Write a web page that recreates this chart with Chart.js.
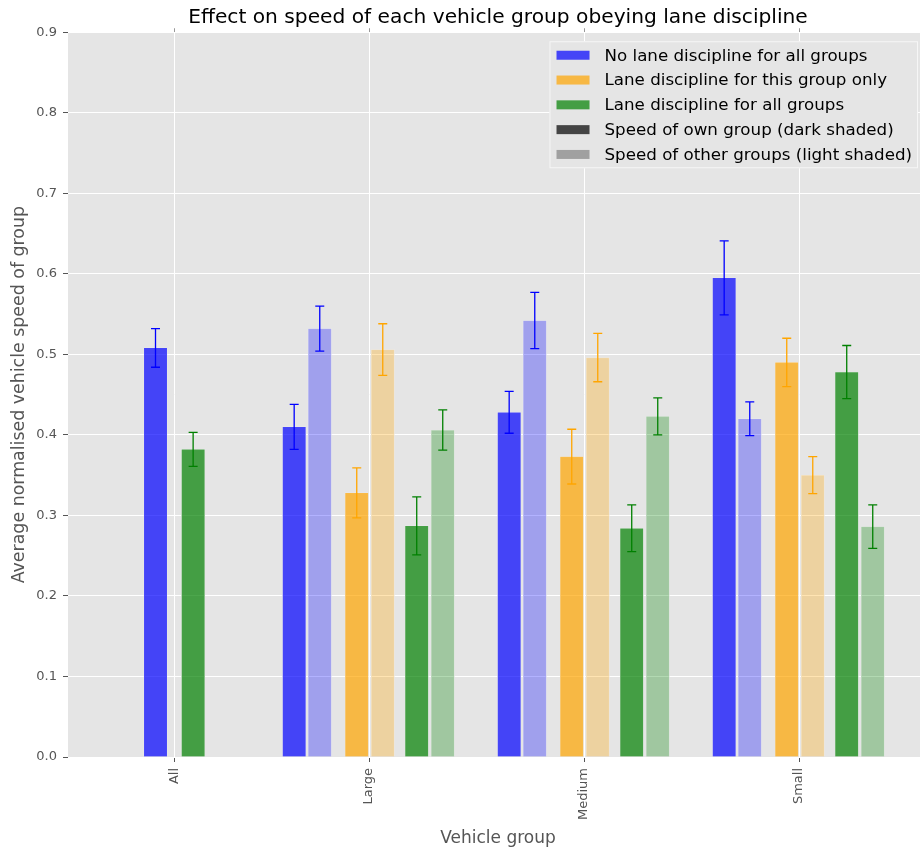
<!DOCTYPE html>
<html>
<head>
<meta charset="utf-8">
<script src="https://cdn.jsdelivr.net/npm/chart.js@4.4.0/dist/chart.umd.min.js"></script>
<style>
  html, body { margin: 0; padding: 0; background: #fff; overflow: hidden; }
  canvas { display: block; }
</style>
</head>
<body>
<canvas id="grafica" width="928" height="849"></canvas>
<script>
// grupos de vehiculos (eje x)
const categorias = ['All', 'Large', 'Medium', 'Small'];

// velocidad media normalizada: "Propio" = barra oscura, "Otros" = barra clara
const sinDisciplinaPropio = [0.508, 0.410, 0.428, 0.595];
const sinDisciplinaOtros  = [null, 0.532, 0.542, 0.420];
const esteGrupoPropio     = [null, 0.328, 0.373, 0.490];
const esteGrupoOtros      = [null, 0.506, 0.496, 0.350];
const todosPropio         = [0.382, 0.287, 0.284, 0.478];
const todosOtros          = [null, 0.406, 0.423, 0.286];

// barras de error (+/-)
const sinDisciplinaPropioErr = [0.024, 0.028, 0.026, 0.046];
const sinDisciplinaOtrosErr  = [null, 0.028, 0.035, 0.021];
const esteGrupoPropioErr     = [null, 0.031, 0.034, 0.030];
const esteGrupoOtrosErr      = [null, 0.032, 0.030, 0.023];
const todosPropioErr         = [0.021, 0.036, 0.029, 0.033];
const todosOtrosErr          = [null, 0.025, 0.023, 0.027];

const titulo = 'Effect on speed of each vehicle group obeying lane discipline';
const tituloX = 'Vehicle group';
const tituloY = 'Average normalised vehicle speed of group';
const etiquetasLeyenda = [
    'No lane discipline for all groups',
    'Lane discipline for this group only',
    'Lane discipline for all groups',
    'Speed of own group (dark shaded)',
    'Speed of other groups (light shaded)'
];

const fuente = 'DejaVu Sans';

// posicion de cada grupo en el eje x y desplazamiento de cada barra
const posGrupos = [0.094, 1, 2, 3];
const series = [
    { valores: sinDisciplinaPropio, errores: sinDisciplinaPropioErr, rgb: '0,0,255',   alfa: 0.7, err: 'blue',   desp: -0.348, despAll: -0.087 },
    { valores: sinDisciplinaOtros,  errores: sinDisciplinaOtrosErr,  rgb: '0,0,255',   alfa: 0.3, err: 'blue',   desp: -0.229 },
    { valores: esteGrupoPropio,     errores: esteGrupoPropioErr,     rgb: '255,165,0', alfa: 0.7, err: 'orange', desp: -0.057 },
    { valores: esteGrupoOtros,      errores: esteGrupoOtrosErr,      rgb: '255,165,0', alfa: 0.3, err: 'orange', desp: 0.064 },
    { valores: todosPropio,         errores: todosPropioErr,         rgb: '0,128,0',   alfa: 0.7, err: 'green',  desp: 0.222, despAll: 0.088 },
    { valores: todosOtros,          errores: todosOtrosErr,          rgb: '0,128,0',   alfa: 0.3, err: 'green',  desp: 0.343 }
];

const datasets = series.map(s => {
    const puntos = [];
    s.valores.forEach((v, i) => {
        if (v === null) return;
        const d = i === 0 ? s.despAll : s.desp;
        puntos.push({ x: posGrupos[i] + d, y: v, err: s.errores[i] });
    });
    return {
        data: puntos,
        backgroundColor: 'rgba(' + s.rgb + ',' + s.alfa + ')',
        borderColor: '#eeeeee',
        borderWidth: 0.5,
        barThickness: 23.3,
        grouped: false,
        colorError: s.err
    };
});

const coloresLeyenda = [
    'rgba(0,0,255,0.7)', 'rgba(255,165,0,0.7)', 'rgba(0,128,0,0.7)',
    'rgba(0,0,0,0.7)', 'rgba(0,0,0,0.3)'
];

// fondo gris del area de la grafica
const fondo = {
    id: 'fondo',
    beforeDraw(chart) {
        const { ctx, chartArea: a } = chart;
        ctx.save();
        ctx.fillStyle = '#ffffff';
        ctx.fillRect(0, 0, chart.width, chart.height);
        ctx.fillStyle = '#e5e5e5';
        ctx.fillRect(a.left, a.top, a.right - a.left, a.bottom - a.top);
        ctx.restore();
    }
};

// barras de error con tapas
const barrasError = {
    id: 'barrasError',
    afterDatasetsDraw(chart) {
        const ctx = chart.ctx;
        const y = chart.scales.y;
        chart.data.datasets.forEach((ds, i) => {
            const meta = chart.getDatasetMeta(i);
            meta.data.forEach((barra, j) => {
                const p = ds.data[j];
                const arriba = y.getPixelForValue(p.y + p.err);
                const abajo = y.getPixelForValue(p.y - p.err);
                ctx.save();
                ctx.strokeStyle = ds.colorError;
                ctx.lineWidth = 1.3;
                ctx.beginPath();
                ctx.moveTo(barra.x, arriba); ctx.lineTo(barra.x, abajo);
                ctx.moveTo(barra.x - 4.5, arriba); ctx.lineTo(barra.x + 4.5, arriba);
                ctx.moveTo(barra.x - 4.5, abajo); ctx.lineTo(barra.x + 4.5, abajo);
                ctx.stroke();
                ctx.restore();
            });
        });
    }
};

// leyenda dentro del area, arriba a la derecha
const leyenda = {
    id: 'leyenda',
    afterDraw(chart) {
        const { ctx, chartArea: a } = chart;
        ctx.save();
        ctx.font = '16.7px "' + fuente + '"';
        let ancho = 0;
        etiquetasLeyenda.forEach(t => { ancho = Math.max(ancho, ctx.measureText(t).width); });
        const w = 55 + ancho + 6;
        const h = 127;
        const x0 = a.right - 10 - w;
        const y0 = a.top + 9;
        ctx.fillStyle = '#e5e5e5';
        ctx.fillRect(x0, y0, w, h);
        ctx.strokeStyle = '#f6f6f6';
        ctx.lineWidth = 1;
        ctx.strokeRect(x0 + 0.5, y0 + 0.5, w - 1, h - 1);
        etiquetasLeyenda.forEach((t, i) => {
            const yc = y0 + 14 + i * 24.8;
            ctx.fillStyle = coloresLeyenda[i];
            ctx.fillRect(x0 + 7, yc - 4.5, 33, 9);
            ctx.fillStyle = '#000';
            ctx.textBaseline = 'middle';
            ctx.textAlign = 'left';
            ctx.fillText(t, x0 + 55, yc + 1);
        });
        ctx.restore();
    }
};

const canvas = document.getElementById('grafica');
new Chart(canvas, {
    type: 'bar',
    data: { datasets: datasets },
    options: {
        responsive: false,
        animation: false,
        layout: { padding: 0 },
        plugins: {
            legend: { display: false },
            tooltip: { enabled: false },
            title: {
                display: true,
                text: titulo,
                fullSize: false,
                color: '#000',
                font: { family: fuente, size: 20.2, weight: 'normal' },
                padding: { top: 6, bottom: 2 }
            }
        },
        scales: {
            x: {
                type: 'linear',
                min: -0.4,
                max: 3.6,
                offset: false,
                afterBuildTicks: s => { s.ticks = posGrupos.map(v => ({ value: v })); },
                afterFit: s => { s.height = 92; },
                ticks: {
                    callback: (v, i) => categorias[i],
                    autoSkip: false,
                    minRotation: 90,
                    maxRotation: 90,
                    padding: 6,
                    color: '#555',
                    font: { family: fuente, size: 13 }
                },
                grid: { color: '#ffffff', lineWidth: 1, offset: false, tickLength: 5, tickColor: '#555' },
                border: { display: false },
                title: {
                    display: true,
                    text: tituloX,
                    color: '#555',
                    font: { family: fuente, size: 17 },
                    padding: { top: 0, bottom: 0 }
                }
            },
            xArriba: {
                type: 'linear',
                axis: 'x',
                position: 'top',
                min: -0.4,
                max: 3.6,
                offset: false,
                afterBuildTicks: s => { s.ticks = posGrupos.map(v => ({ value: v })); },
                afterFit: s => { s.height = 0; },
                ticks: { display: false },
                grid: { drawOnChartArea: false, tickLength: 4, tickColor: '#999', offset: false },
                border: { display: false }
            },
            y: {
                min: 0,
                max: 0.9,
                afterFit: s => { s.width = 68; },
                ticks: {
                    stepSize: 0.1,
                    callback: v => v.toFixed(1),
                    padding: 6,
                    color: '#555',
                    font: { family: fuente, size: 13 }
                },
                grid: { color: '#ffffff', lineWidth: 1, tickLength: 5, tickColor: '#555' },
                border: { display: false },
                title: {
                    display: true,
                    text: tituloY,
                    color: '#555',
                    font: { family: fuente, size: 17.4 },
                    padding: { top: 9, bottom: 0 }
                }
            }
        }
    },
    plugins: [fondo, barrasError, leyenda]
});
</script>
</body>
</html>
